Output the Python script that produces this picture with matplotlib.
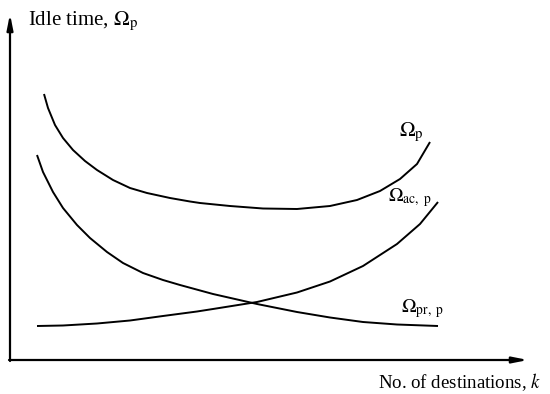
import matplotlib.pyplot as plt

plt.rcParams["font.family"] = "serif"
plt.rcParams["font.serif"] = ["Liberation Serif", "DejaVu Serif"]
plt.rcParams["mathtext.fontset"] = "stix"

# values (arbitrary units, origin at the axes corner)
k_p = [34, 38, 45, 53, 63, 75, 87, 103, 120, 137, 160, 180, 190, 220, 253, 287,
       320, 347, 370, 390, 407, 420]
omega_p = [266, 252, 235, 222, 210, 199, 190, 180, 172, 167, 162, 158.5, 157, 154,
           151.5, 151, 154, 160, 169, 181, 196, 218]

k_pr = [27, 33, 43, 53, 67, 80, 97, 113, 133, 153, 170, 203, 247, 287, 320, 353,
        387, 428]
omega_pr = [205, 188, 168, 152, 135, 122, 108, 97, 87, 80, 75, 66, 56, 48, 42.5,
            38, 35.5, 34]

k_ac = [27, 53, 87, 120, 153, 187, 203, 247, 287, 320, 353, 387, 410, 428]
omega_ac = [34, 34.5, 36.5, 39.5, 44, 48.5, 51, 58, 67.5, 78.5, 94, 116, 136, 158]

fig = plt.figure(figsize=(5.5, 3.94), dpi=100)
ax = fig.add_axes([0, 0, 1, 1])
ax.set_xlim(-10, 540)
ax.set_ylim(-34, 360)
ax.axis("off")

for xs, ys in [(k_p, omega_p), (k_pr, omega_pr), (k_ac, omega_ac)]:
    ax.plot(xs, ys, color="black", lw=1.4, solid_capstyle="butt",
            solid_joinstyle="round")

# axes arrows
arrow = dict(arrowstyle="-|>,head_length=0.9,head_width=0.18", color="black", lw=1.6,
             shrinkA=0, shrinkB=0)
ax.annotate("", xy=(0, 346), xytext=(0, -1), arrowprops=arrow)
ax.annotate("", xy=(518, 0), xytext=(-1, 0), arrowprops=arrow)

ax.text(18, 339, r"Idle time, $\Omega_{\mathrm{p}}$", fontsize=15, va="center", ha="left")
ax.text(368, -22, r"No. of destinations, $k$", fontsize=13.6, va="center", ha="left")

ax.text(389, 228, r"$\Omega_{\mathrm{p}}$", fontsize=15, va="center", ha="left")
ax.text(378, 162, r"$\Omega_{\mathrm{ac,\ p}}$", fontsize=14, va="center", ha="left")
ax.text(391, 51, r"$\Omega_{\mathrm{pr,\ p}}$", fontsize=14, va="center", ha="left")

fig.savefig("out.png", dpi=100)
